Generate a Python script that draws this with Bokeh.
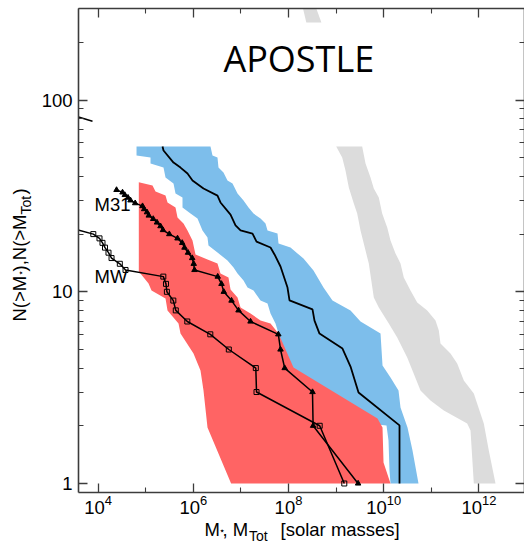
import numpy as np
from bokeh.plotting import figure
from bokeh.models import (Range1d, LogAxis, FixedTicker, LogTickFormatter,
                          CustomJSTickFormatter, Label)
from bokeh.embed import file_html
from bokeh.resources import INLINE

# ---- axis ticks -------------------------------------------------------
x_major_ticks = [1e4, 1e6, 1e8, 1e10, 1e12]
x_minor_ticks = [1e5, 1e7, 1e9, 1e11, 1e13]
y_major_ticks = [1, 10, 100]
y_minor_ticks = [2, 3, 4, 5, 6, 7, 8, 9, 20, 30, 40, 50, 60, 70, 80, 90, 200, 300]

# axes box (data units) and the full canvas extent around it (log10 units)
X_LO, X_HI = 10 ** 3.588, 10 ** 12.958
Y_LO, Y_HI = 0.898, 300.6
CANVAS_LOGX = (1.9493, 12.958)
CANVAS_LOGY = (-0.3183, 2.5197)

# ---- simulated satellite mass functions (log10 M, log10 N) -------------
# stellar-mass band: upper/right edge from top to bottom, then lower/left edge back up
red_edge1_logm = [4.855, 5.143, 5.206, 5.416, 5.458, 5.626, 5.668, 5.794, 5.878, 5.983,
                  6.046, 6.298, 6.508, 6.571, 6.739, 6.782, 6.929, 6.992, 7.202, 7.412,
                  7.622, 7.790, 8.105, 9.870, 9.975, 9.996, 10.143]
red_edge1_logn = [1.572, 1.555, 1.523, 1.502, 1.466, 1.440, 1.388, 1.356, 1.320, 1.268,
                  1.195, 1.168, 1.148, 1.095, 1.075, 1.012, 0.970, 0.918, 0.887, 0.850,
                  0.835, 0.782, 0.605, 0.339, 0.292, 0.110, 0.0]
red_edge2_logm = [6.794, 6.298, 6.214, 6.151, 6.004, 5.731, 5.689, 5.458, 5.416, 5.122,
                  5.059, 4.855, 4.855]
red_edge2_logn = [0.0, 0.292, 0.485, 0.589, 0.678, 0.782, 0.835, 0.902, 0.965, 1.007,
                  1.043, 1.106, 1.572]

# stellar-mass band of the second selection
blue_edge1_logm = [6.361, 6.403, 6.508, 6.529, 6.634, 6.718, 6.824, 6.929, 7.055, 7.160,
                   7.265, 7.412, 7.517, 7.559, 7.769, 7.790, 8.042, 8.189, 8.315, 8.525,
                   8.735, 8.924, 9.303, 9.513, 9.933, 9.975, 10.143, 10.311, 10.353,
                   10.500, 10.605, 10.731]
blue_edge1_logn = [1.758, 1.711, 1.701, 1.648, 1.622, 1.581, 1.565, 1.513, 1.476, 1.440,
                   1.408, 1.382, 1.356, 1.320, 1.304, 1.252, 1.231, 1.200, 1.174, 1.111,
                   1.022, 0.955, 0.902, 0.845, 0.782, 0.616, 0.553, 0.485, 0.396,
                   0.292, 0.172, 0.0]
blue_edge2_logm = [10.143, 10.122, 10.101, 10.059, 9.303, 7.622, 7.790, 7.727, 7.622,
                   7.559, 7.412, 7.265, 7.139, 7.055, 6.929, 6.845, 6.718, 6.508, 6.319,
                   6.298, 6.193, 6.088, 5.941, 5.773, 5.773, 5.626, 5.584, 5.416, 5.374,
                   5.101, 5.101, 4.807, 4.807]
blue_edge2_logn = [0.0, 0.068, 0.224, 0.303, 0.323, 0.694, 0.782, 0.835, 0.887,
                   0.939, 0.955, 1.007, 1.022, 1.059, 1.095, 1.127, 1.163, 1.205, 1.242,
                   1.283, 1.320, 1.382, 1.408, 1.440, 1.492, 1.513, 1.565, 1.596, 1.648,
                   1.669, 1.701, 1.711, 1.758]
blue_median_logm = [5.353, 5.374, 5.584, 5.731, 5.878, 5.983, 6.214, 6.508, 6.571, 6.782,
                    6.887, 6.992, 7.244, 7.328, 7.622, 7.706, 7.832, 7.979, 8.021, 8.504,
                    8.546, 8.651, 9.134, 9.303, 9.471, 10.332, 10.332]
blue_median_logn = [1.758, 1.737, 1.674, 1.648, 1.617, 1.581, 1.539, 1.502, 1.466, 1.403,
                    1.346, 1.320, 1.304, 1.262, 1.231, 1.195, 1.132, 1.022, 0.955, 0.908,
                    0.850, 0.782, 0.704, 0.610, 0.475, 0.303, 0.0]

# total-mass band
grey_edge1_logm = [9.548, 9.618, 9.723, 9.792, 9.897, 9.968, 10.074, 10.143, 10.248,
                   10.353, 10.422, 10.563, 10.704, 10.914, 11.088, 11.158, 11.193, 11.403,
                   11.544, 11.683, 11.893, 12.103, 12.208, 12.349]
grey_edge1_logn = [1.758, 1.669, 1.596, 1.539, 1.492, 1.408, 1.335, 1.268, 1.200,
                   1.148, 1.075, 1.007, 0.944, 0.902, 0.850, 0.798, 0.730, 0.678,
                   0.626, 0.537, 0.469, 0.313, 0.172, 0.0]
grey_edge2_logm = [11.893, 11.824, 11.754, 11.263, 10.983, 10.773, 10.494, 10.284, 10.107,
                   9.897, 9.792, 9.687, 9.618, 9.513, 9.443, 9.372, 9.267, 9.197, 9.128,
                   9.002]
grey_edge2_logn = [0.0, 0.276, 0.313, 0.381, 0.433, 0.485, 0.657, 0.762, 0.835,
                   0.918, 0.970, 1.148, 1.215, 1.320, 1.408, 1.461, 1.544, 1.633, 1.701,
                   1.758]
grey_high_logm = [8.305, 8.374, 8.691, 8.584]
grey_high_logn = [2.478, 2.405, 2.405, 2.478]

# ---- observed satellites ---------------------------------------------
mw_n = list(range(21, 0, -1))
mw_logm = [3.58, 3.899, 4.029, 4.092, 4.145, 4.218, 4.282, 4.456, 4.576, 5.370, 5.426,
           5.445, 5.580, 5.632, 5.874, 6.357, 6.746, 7.313, 7.328, 8.655, 9.172]
m31_n = list(range(34, 0, -1))
m31_logm = [4.387, 4.513, 4.561, 4.628, 4.681, 4.779, 4.933, 4.968, 5.027, 5.065, 5.158,
            5.237, 5.311, 5.363, 5.496, 5.668, 5.767, 5.815, 5.889, 5.977, 6.008, 6.025,
            6.513, 6.592, 6.641, 6.803, 6.950, 7.202, 7.786, 7.832, 7.920, 8.504, 8.517,
            9.462]
outer_logm = [3.588, 3.882]
outer_logn = [1.9115, 1.890]

RED = "#ff6464"
BLUE = "#7dbeeb"
GREY = "#dcdcdc"
AXIS = "#3c3c3c"
FONT = "Liberation Sans"


def pw(a):
    return (10.0 ** np.asarray(a, dtype=float)).tolist()


# the frame spans the whole canvas; the axes sit at fixed data locations
p = figure(width=524, height=544, x_axis_type="log", y_axis_type="log",
           x_axis_location=None, y_axis_location=None,
           x_range=Range1d(10 ** CANVAS_LOGX[0], 10 ** CANVAS_LOGX[1]),
           y_range=Range1d(10 ** CANVAS_LOGY[0], 10 ** CANVAS_LOGY[1]),
           output_backend="svg", toolbar_location=None, title=None,
           min_border=0)
p.xgrid.visible = False
p.ygrid.visible = False
p.outline_line_color = None
p.background_fill_color = "white"
p.border_fill_color = "white"

# bands
p.patch(pw(grey_edge1_logm + grey_edge2_logm), pw(grey_edge1_logn + grey_edge2_logn),
        fill_color=GREY, line_color=None)
p.patch(pw(grey_high_logm), pw(grey_high_logn), fill_color=GREY, line_color=None)
p.patch(pw(blue_edge1_logm + blue_edge2_logm), pw(blue_edge1_logn + blue_edge2_logn),
        fill_color=BLUE, line_color=None)
p.patch(pw(red_edge1_logm + red_edge2_logm), pw(red_edge1_logn + red_edge2_logn),
        fill_color=RED, line_color=None)
p.line(pw(blue_median_logm), pw(blue_median_logn), line_color="black", line_width=1.8)

# observed cumulative counts (the first MW point lies on the left edge, unmarked)
p.line(pw(outer_logm), pw(outer_logn), line_color="black", line_width=1.5)
p.line(pw(mw_logm), mw_n, line_color="black", line_width=1.5)
p.scatter(pw(mw_logm[1:]), mw_n[1:], marker="square", size=5, fill_alpha=0,
          line_color="black", line_width=1)
p.line(pw(m31_logm), m31_n, line_color="black", line_width=1.5)
p.scatter(pw(m31_logm), m31_n, marker="triangle", size=5.5, fill_color="black",
          line_color="black", line_width=1)

# axes
bottom_axis = LogAxis(fixed_location=Y_LO, bounds=(X_LO, X_HI))
top_axis = LogAxis(fixed_location=Y_HI, bounds=(X_LO, X_HI))
left_axis = LogAxis(fixed_location=X_LO, bounds=(Y_LO, Y_HI))
right_axis = LogAxis(fixed_location=X_HI, bounds=(Y_LO, Y_HI))
p.add_layout(bottom_axis, "below")
p.add_layout(top_axis, "above")
p.add_layout(left_axis, "left")
p.add_layout(right_axis, "right")

for ax in [bottom_axis, top_axis]:
    ax.ticker = FixedTicker(ticks=x_major_ticks, minor_ticks=x_minor_ticks)
for ax in [left_axis, right_axis]:
    ax.ticker = FixedTicker(ticks=y_major_ticks, minor_ticks=y_minor_ticks)

bottom_axis.formatter = LogTickFormatter()
left_axis.formatter = CustomJSTickFormatter(code="return tick.toFixed(0)")
for ax in [top_axis, right_axis]:
    ax.formatter = CustomJSTickFormatter(code="return ''")
    ax.major_label_text_font_size = "0px"
    ax.major_label_standoff = 0

for ax in [bottom_axis, left_axis, top_axis, right_axis]:
    ax.axis_line_color = AXIS
    ax.axis_line_width = 1.6
    ax.major_tick_line_color = AXIS
    ax.minor_tick_line_color = AXIS
    ax.major_tick_line_width = 1.3
    ax.minor_tick_line_width = 1.1
    ax.major_tick_in = 9
    ax.major_tick_out = 0
    ax.minor_tick_in = 5
    ax.minor_tick_out = 0
    ax.major_label_text_font = FONT
    ax.major_label_text_color = "black"

bottom_axis.major_label_text_font_size = "18.5px"
left_axis.major_label_text_font_size = "18.5px"
bottom_axis.major_label_standoff = 3
left_axis.major_label_standoff = 6


def add_text(text, x, y, size, angle=0.0, align="left", units="screen", font=FONT):
    p.add_layout(Label(x=x, y=y, x_units=units, y_units=units, text=text,
                       text_font=font, text_font_size=size, angle=angle,
                       text_align=align, text_baseline="alphabetic",
                       text_color="black"))


# title inside the axes box
add_text("APOSTLE", 10 ** 8.216, 10 ** 2.217, "36px", align="center", units="data",
         font="Open Sans")
# series labels
add_text("M31", 10 ** 3.924, 28.5, "18.5px", units="data")
add_text("MW", 10 ** 3.924, 12.06, "18.5px", units="data")

# x-axis title (screen units, origin at the canvas bottom-left)
add_text("M", 204, 14.8, "18.5px")
add_text("\u22c6", 218, 14.2, "10px")
add_text(", M", 222, 14.8, "18.5px")
add_text("Tot", 248.5, 8.9, "14px")
add_text("[solar masses]", 280, 14.8, "18.5px")

# y-axis title, rotated to read upwards
ROT = np.pi / 2
add_text("N(>M", 18.7, 223, "18.5px", angle=ROT)
add_text("\u22c6", 19.8, 269, "10px", angle=ROT)
add_text("),N(>M", 18.7, 273, "18.5px", angle=ROT)
add_text("Tot", 25.1, 330, "14px", angle=ROT)
add_text(")", 18.7, 350, "18.5px", angle=ROT)

open("out.html", "w").write(file_html(p, INLINE))
